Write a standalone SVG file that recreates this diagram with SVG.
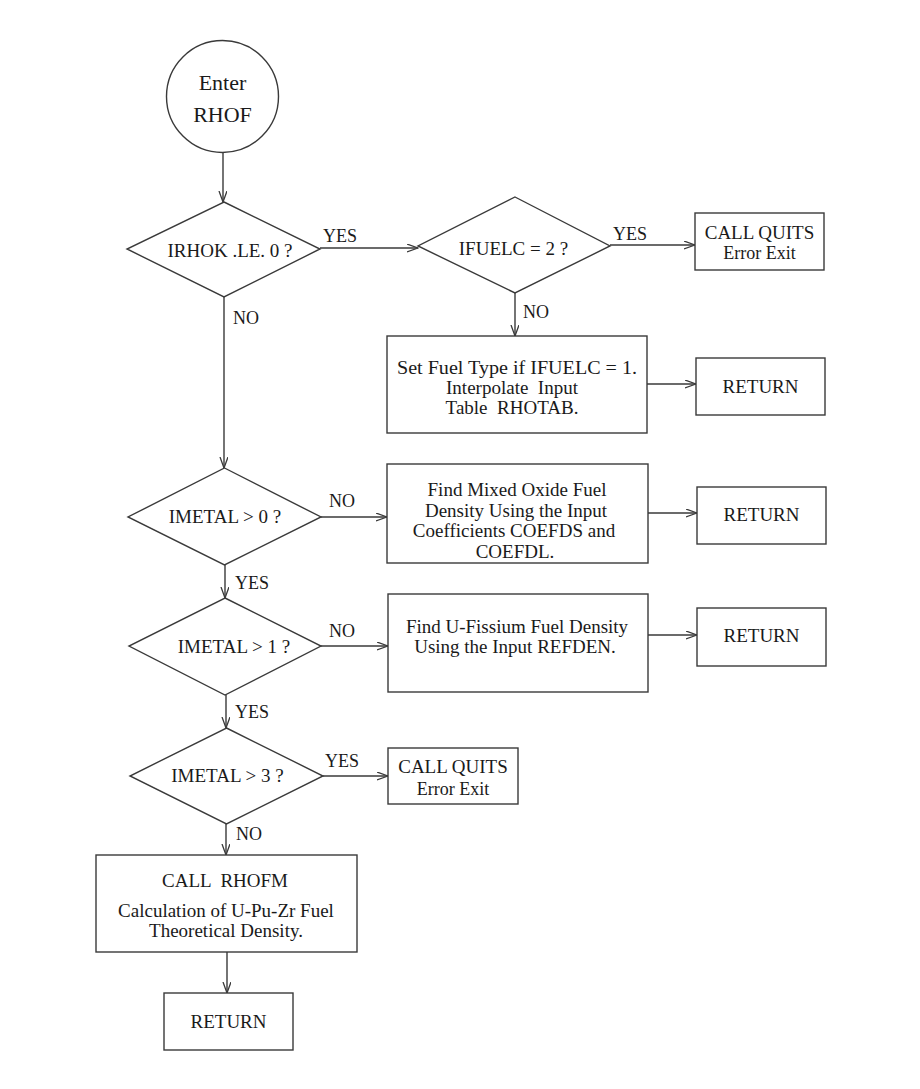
<svg xmlns="http://www.w3.org/2000/svg" width="920" height="1089" viewBox="0 0 920 1089">
<style>
.s{fill:none;stroke:#3a3a3a;stroke-width:1.4}
.b{fill:#ffffff;stroke:#3a3a3a;stroke-width:1.4}
text{font-family:"Liberation Serif","Times New Roman",serif;font-size:19px;fill:#1a1a1a}
.c{text-anchor:middle}
.l{font-size:18px}
.big{font-size:22px}
.sm{font-size:18px}
.pre{white-space:pre}
</style>
<defs>
<marker id="ah" markerUnits="userSpaceOnUse" markerWidth="12" markerHeight="10" refX="11" refY="4" orient="auto">
<path d="M0,0 L11,4 L0,8" fill="none" stroke="#3a3a3a" stroke-width="1.3"/>
</marker>
</defs>
<rect width="920" height="1089" fill="#ffffff"/>
<g id="connectors" class="s">
<line x1="223" y1="153" x2="223" y2="202" marker-end="url(#ah)"/>
<line x1="320" y1="248" x2="418" y2="248" marker-end="url(#ah)"/>
<line x1="610" y1="245" x2="695" y2="245" marker-end="url(#ah)"/>
<line x1="515" y1="293" x2="515" y2="336" marker-end="url(#ah)"/>
<line x1="647" y1="384" x2="696" y2="384" marker-end="url(#ah)"/>
<line x1="224" y1="297" x2="224" y2="468" marker-end="url(#ah)"/>
<line x1="321" y1="517" x2="387" y2="517" marker-end="url(#ah)"/>
<line x1="648" y1="513" x2="697" y2="513" marker-end="url(#ah)"/>
<line x1="225" y1="565" x2="225" y2="598" marker-end="url(#ah)"/>
<line x1="321" y1="646" x2="388" y2="646" marker-end="url(#ah)"/>
<line x1="648" y1="635" x2="697" y2="635" marker-end="url(#ah)"/>
<line x1="226" y1="695" x2="226" y2="728" marker-end="url(#ah)"/>
<line x1="323" y1="776" x2="388" y2="776" marker-end="url(#ah)"/>
<line x1="226" y1="824" x2="226" y2="855" marker-end="url(#ah)"/>
<line x1="227" y1="952" x2="227" y2="993" marker-end="url(#ah)"/>
</g>
<g id="labels">
<text class="l" x="323" y="242">YES</text>
<text class="l" x="613" y="240">YES</text>
<text class="l" x="233" y="324">NO</text>
<text class="l" x="523" y="318">NO</text>
<text class="l" x="329" y="507">NO</text>
<text class="l" x="235" y="589">YES</text>
<text class="l" x="329" y="637">NO</text>
<text class="l" x="235" y="718">YES</text>
<text class="l" x="325" y="767">YES</text>
<text class="l" x="236" y="840">NO</text>
</g>
<g id="start">
<circle class="b" cx="222.5" cy="96.5" r="56"/>
<text class="c big" x="222.5" y="90">Enter</text>
<text class="c big" x="222.5" y="122">RHOF</text>
</g>
<g id="d_irhok">
<polygon class="b" points="224,202 320,249 224,297 127,249"/>
<text class="c" x="230" y="257">IRHOK .LE. 0 ?</text>
</g>
<g id="d_ifuelc">
<polygon class="b" points="515,197 610,246 515,293 418,246"/>
<text class="c" x="513.5" y="255">IFUELC = 2 ?</text>
</g>
<g id="quits1">
<rect class="b" x="695" y="213" width="129" height="57"/>
<text class="c" x="759.5" y="239">CALL QUITS</text>
<text class="c sm" x="759.5" y="259">Error Exit</text>
</g>
<g id="setfuel">
<rect class="b" x="387" y="336" width="260" height="97"/>
<text class="c" x="517" y="374" textLength="240" lengthAdjust="spacingAndGlyphs">Set Fuel Type if IFUELC = 1.</text>
<text class="c pre" x="512" y="394">Interpolate  Input</text>
<text class="c pre" x="512" y="414">Table  RHOTAB.</text>
</g>
<g id="return1">
<rect class="b" x="696" y="358" width="129" height="57"/>
<text class="c" x="760.5" y="393">RETURN</text>
</g>
<g id="d_imetal0">
<polygon class="b" points="224.5,468 321,517 224.5,565 128,517"/>
<text class="c" x="225" y="523">IMETAL &gt; 0 ?</text>
</g>
<g id="mixedoxide">
<rect class="b" x="387" y="464" width="261" height="99"/>
<text class="c" x="517" y="496">Find Mixed Oxide Fuel</text>
<text class="c" x="516" y="517">Density Using the Input</text>
<text class="c" x="514" y="537">Coefficients COEFDS and</text>
<text class="c" x="515" y="558">COEFDL.</text>
</g>
<g id="return2">
<rect class="b" x="697" y="487" width="129" height="57"/>
<text class="c" x="761.5" y="521">RETURN</text>
</g>
<g id="d_imetal1">
<polygon class="b" points="225,598 321,646 225,695 129,646"/>
<text class="c" x="234" y="653">IMETAL &gt; 1 ?</text>
</g>
<g id="ufissium">
<rect class="b" x="388" y="594" width="260" height="98"/>
<text class="c" x="517" y="633">Find U-Fissium Fuel Density</text>
<text class="c" x="515" y="653">Using the Input REFDEN.</text>
</g>
<g id="return3">
<rect class="b" x="697" y="608" width="129" height="58"/>
<text class="c" x="761.5" y="642">RETURN</text>
</g>
<g id="d_imetal3">
<polygon class="b" points="226.5,728 323,776 226.5,824 130,776"/>
<text class="c" x="227.5" y="782">IMETAL &gt; 3 ?</text>
</g>
<g id="quits2">
<rect class="b" x="388" y="748" width="130" height="56"/>
<text class="c" x="453" y="773">CALL QUITS</text>
<text class="c sm" x="453" y="795">Error Exit</text>
</g>
<g id="rhofm">
<rect class="b" x="96" y="855" width="261" height="97"/>
<text class="c pre" x="225" y="887">CALL  RHOFM</text>
<text class="c" x="226" y="917">Calculation of U-Pu-Zr Fuel</text>
<text class="c" x="226" y="937">Theoretical Density.</text>
</g>
<g id="return4">
<rect class="b" x="164" y="993" width="129" height="57"/>
<text class="c" x="228.5" y="1028">RETURN</text>
</g>
</svg>
